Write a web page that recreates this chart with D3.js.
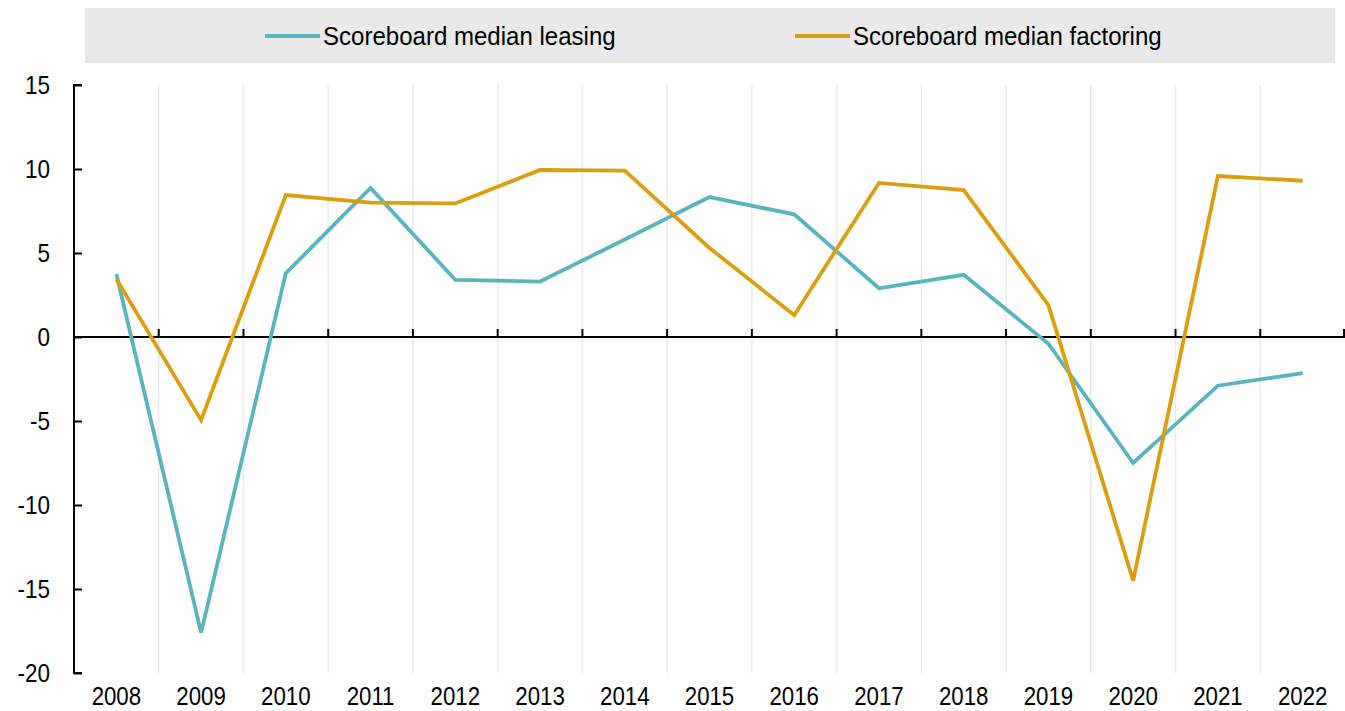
<!DOCTYPE html>
<html><head><meta charset="utf-8">
<script src="https://cdn.jsdelivr.net/npm/d3@7"></script>
<style>body{margin:0;background:#fff}svg{display:block;font-family:"Liberation Sans",Arial,sans-serif}</style>
</head><body><svg id="c" width="1345" height="711"></svg>
<script>
const years = ["2008","2009","2010","2011","2012","2013","2014","2015","2016","2017","2018","2019","2020","2021","2022"];
const leasing = [3.75,-17.6,3.8,8.87,3.4,3.3,5.8,8.33,7.3,2.9,3.7,-0.4,-7.5,-2.9,-2.15];
const factoring = [3.45,-4.95,8.45,8.0,7.95,9.94,9.9,5.3,1.3,9.17,8.75,1.9,-14.5,9.58,9.3];
const yTicks = [15,10,5,0,-5,-10,-15,-20];
const seriesNames = ["Scoreboard median leasing","Scoreboard median factoring"];
const colors = ["#5ab4bc","#d99f10"];

const svg = d3.select("#c");
const L = 74, R = 1345, T = 85, B = 673;
const x = d3.scaleBand().domain(years).range([L, R]);
const y = d3.scaleLinear().domain([-20, 15]).range([B, T]);
const FS = 26, SX_TICK = 0.865, SX_LEG = 0.925;

function narrowText(g, px, py, txt, sx, anchor, fs){
  return g.append("text").attr("transform",`translate(${px},${py}) scale(${sx},1)`)
    .attr("text-anchor",anchor).attr("font-size",fs||FS).attr("fill","#000").text(txt);
}

// legend
svg.append("rect").attr("x",85).attr("y",8).attr("width",1250).attr("height",55).attr("fill","#e9e9e9");
const legX = [265, 795];
seriesNames.forEach((n,i)=>{
  svg.append("line").attr("x1",legX[i]).attr("x2",legX[i]+55).attr("y1",36).attr("y2",36)
    .attr("stroke",colors[i]).attr("stroke-width",4);
  narrowText(svg, legX[i]+58, 45, n, SX_LEG, "start");
});

// vertical gridlines at band boundaries
const bounds = years.slice(1).map(d=>x(d));
svg.append("g").selectAll("line").data(bounds).join("line")
  .attr("x1",d=>d).attr("x2",d=>d).attr("y1",T).attr("y2",B)
  .attr("stroke","#ebebeb").attr("stroke-width",1.5);

// y axis
const yAxis = d3.axisLeft(y).tickValues(yTicks).tickSize(-8).tickFormat(()=>"");
const gy = svg.append("g").attr("transform",`translate(${L},0)`).call(yAxis);
gy.select(".domain").attr("stroke","#000").attr("stroke-width",2).attr("d",`M8,${T}H0V${B}H8`);
gy.selectAll(".tick line").attr("stroke","#000").attr("stroke-width",2);
const gyl = svg.append("g");
yTicks.forEach(v=>narrowText(gyl, 50, y(v)+9, String(v).replace("\u2212","-"), SX_TICK, "end"));

// zero line with ticks
const y0 = y(0);
svg.append("line").attr("x1",L).attr("x2",R).attr("y1",y0).attr("y2",y0).attr("stroke","#000").attr("stroke-width",2);
svg.append("g").selectAll("line").data(bounds.concat([R-1])).join("line")
  .attr("x1",d=>d).attr("x2",d=>d).attr("y1",y0).attr("y2",y0-8).attr("stroke","#000").attr("stroke-width",2);

// x labels
const gxl = svg.append("g");
years.forEach(d=>narrowText(gxl, x(d)+x.bandwidth()/2, 705, d, 0.89, "middle", 25));

// lines
const line = d3.line().x((d,i)=>x(years[i])+x.bandwidth()/2).y(d=>y(d));
[leasing,factoring].forEach((s,i)=>{
  svg.append("path").datum(s).attr("d",line).attr("fill","none")
    .attr("stroke",colors[i]).attr("stroke-width",3.8).attr("stroke-linejoin","miter");
});
</script></body></html>
